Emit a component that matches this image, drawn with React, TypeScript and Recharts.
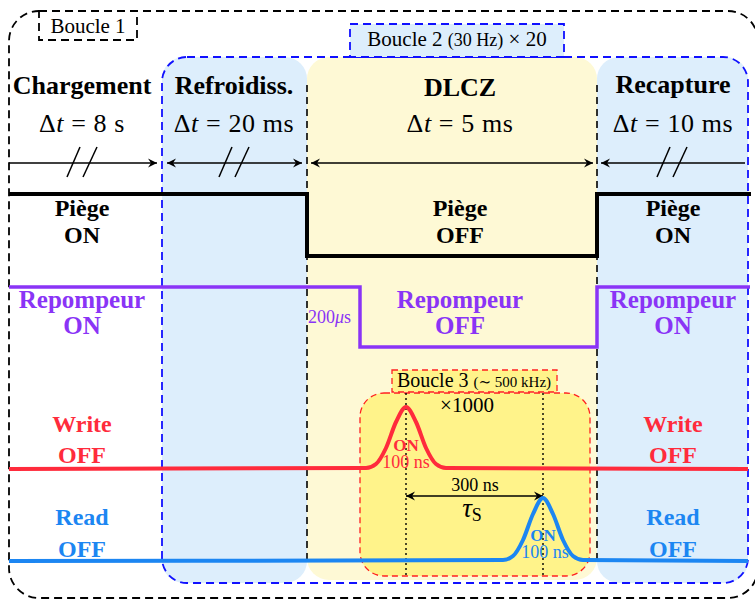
import React from "react";
import {
  LineChart,
  Line,
  XAxis,
  YAxis,
  ReferenceArea,
  ReferenceLine,
  ReferenceDot,
} from "recharts";

const W = 755;
const H = 599;
const SERIF = "'Liberation Serif', 'DejaVu Serif', serif";

const BLACK = "#000000";
const PURPLE = "#8a34f6";
const RED = "#ff2b3c";
const BLUE = "#1c86f2";
const LIGHT_BLUE = "#ddeefc";
const LIGHT_YELLOW = "#fef9d5";
const YELLOW = "#fff38a";

// phases of the sequence
const phases = ["Chargement", "Refroidiss.", "DLCZ", "Recapture"];
const phaseDt = ["8 s", "20 ms", "5 ms", "10 ms"];
const phaseMid = [82, 234, 460, 673];
const phaseTitleY = [94, 94, 96, 93];

// duration arrows (x from / to, heads, position of the // break)
const arrowFrom = [9, 167, 311, 601];
const arrowTo = [157, 302, 593, 745];
const arrowHeads = ["end", "both", "both", "start"];
const arrowBreak = [82, 234, null, 672];
const arrowY = 163;

// traces, x position and level (y grows downwards)
const piegeX = [9, 307, 307, 597, 597, 751];
const piegeY = [194, 194, 256, 256, 194, 194];
const repompX = [9, 360, 360, 597, 597, 750];
const repompY = [287, 287, 347, 347, 287, 287];
const writeX = [9, 366, 376, 386, 396, 406, 416, 426, 436, 446, 748];
const writeY = [469, 468, 464, 448, 422, 407, 422, 448, 464, 468, 469];
const readX = [9, 503, 513, 523, 533, 543, 553, 563, 573, 583, 748];
const readY = [561, 560, 556, 540, 514, 498, 514, 540, 556, 560, 561];

// state labels
const piegeStates = ["ON", "OFF", "ON"];
const piegeStateX = [82, 460, 673];
const repompStates = ["ON", "OFF", "ON"];
const repompStateX = [82, 460, 673];
const writeStates = ["OFF", "OFF"];
const writeStateX = [82, 673];
const readStates = ["OFF", "OFF"];
const readStateX = [82, 673];

const zip = (xs: number[], ys: number[]) => xs.map((x, i) => ({ x, y: ys[i] }));

const piegeData = zip(piegeX, piegeY);
const repompData = zip(repompX, repompY);
const writeData = zip(writeX, writeY);
const readData = zip(readX, readY);

const txt = (
  key: string,
  x: number,
  y: number,
  size: number,
  color: string,
  bold: boolean,
  content: React.ReactNode,
  anchor: "start" | "middle" | "end" = "middle",
  spacing = 0
) => (
  <ReferenceDot
    key={key}
    x={x}
    y={y}
    r={0}
    ifOverflow="visible"
    shape={(p: any) => (
      <text
        x={p.cx}
        y={p.cy}
        textAnchor={anchor}
        fontSize={size}
        fill={color}
        fontWeight={bold ? 700 : 400}
        fontFamily={SERIF}
        letterSpacing={spacing}
        style={{ whiteSpace: "pre" }}
      >
        {content}
      </text>
    )}
  />
);

const roundRect =
  (rx: number, fill: string, stroke = "none", dash = "8 5", sw = 1.8) =>
  (p: any) => (
    <rect
      x={p.x}
      y={p.y}
      width={p.width}
      height={p.height}
      rx={rx}
      ry={rx}
      fill={fill}
      stroke={stroke}
      strokeWidth={sw}
      strokeDasharray={stroke === "none" ? undefined : dash}
    />
  );

const head = (x: number, y: number, dir: number) => {
  const b = x - dir * 9;
  const n = x - dir * 6;
  return `M${x},${y} L${b},${y - 4.5} L${n},${y} L${b},${y + 4.5} Z`;
};

const arrowShape = (heads: string) => (p: any) => {
  const { x1, y1, x2 } = p;
  return (
    <g>
      <line x1={x1} y1={y1} x2={x2} y2={y1} stroke={BLACK} strokeWidth={1.3} />
      {(heads === "end" || heads === "both") && <path d={head(x2, y1, 1)} fill={BLACK} />}
      {(heads === "start" || heads === "both") && <path d={head(x1, y1, -1)} fill={BLACK} />}
    </g>
  );
};

const slashShape = (p: any) => {
  const c = p.cx;
  const y = p.cy;
  return (
    <g stroke={BLACK} strokeWidth={1.5}>
      <line x1={c - 15} y1={y + 14} x2={c - 2} y2={y - 16} />
      <line x1={c + 1} y1={y + 14} x2={c + 15} y2={y - 16} />
    </g>
  );
};

const dt = (v: string) => (
  <>
    Δ<tspan fontStyle="italic">t</tspan> = {v}
  </>
);

export default function App() {
  return (
    <div style={{ width: W, height: H }}>
      <style>{"body{margin:0}"}</style>
      <LineChart width={W} height={H} margin={{ top: 0, right: 0, bottom: 0, left: 0 }}>
        <XAxis type="number" dataKey="x" domain={[0, W]} hide allowDataOverflow />
        <YAxis type="number" domain={[0, H]} reversed hide allowDataOverflow />

        {/* background regions */}
        <ReferenceArea x1={162} x2={307} y1={57} y2={583} ifOverflow="visible" shape={roundRect(22, LIGHT_BLUE)} />
        <ReferenceArea x1={597} x2={748} y1={57} y2={583} ifOverflow="visible" shape={roundRect(22, LIGHT_BLUE)} />
        <ReferenceArea x1={307} x2={597} y1={57} y2={580} ifOverflow="visible" shape={roundRect(22, LIGHT_YELLOW)} />
        <ReferenceArea x1={360} x2={590} y1={393} y2={576} ifOverflow="visible" shape={roundRect(24, YELLOW, "#ff2020", "6 4", 1.3)} />

        {/* loop frames */}
        <ReferenceArea x1={9} x2={758} y1={11} y2={598} ifOverflow="visible" shape={roundRect(30, "none", BLACK, "8 5", 1.8)} />
        <ReferenceArea x1={162} x2={748} y1={57} y2={583} ifOverflow="visible" shape={roundRect(25, "none", "#1010ff", "8 5", 1.8)} />
        <ReferenceArea x1={39} x2={137} y1={11} y2={40} ifOverflow="visible" shape={roundRect(0, "#ffffff", BLACK, "8 5", 1.8)} />
        <ReferenceArea x1={350} x2={564} y1={24} y2={57} ifOverflow="visible" shape={roundRect(0, LIGHT_BLUE, "#1010ff", "8 5", 1.8)} />
        <ReferenceArea x1={392} x2={557} y1={370} y2={392} ifOverflow="visible" shape={roundRect(0, YELLOW, "#ff2020", "6 4", 1.3)} />

        {/* phase separators */}
        <ReferenceLine segment={[{ x: 307, y: 85 }, { x: 307, y: 560 }]} stroke={BLACK} strokeWidth={1.6} strokeDasharray="7 5" ifOverflow="visible" />
        <ReferenceLine segment={[{ x: 597, y: 85 }, { x: 597, y: 560 }]} stroke={BLACK} strokeWidth={1.6} strokeDasharray="7 5" ifOverflow="visible" />
        <ReferenceLine segment={[{ x: 406, y: 393 }, { x: 406, y: 575 }]} stroke={BLACK} strokeWidth={1.4} strokeDasharray="2 3" ifOverflow="visible" />
        <ReferenceLine segment={[{ x: 543, y: 393 }, { x: 543, y: 575 }]} stroke={BLACK} strokeWidth={1.4} strokeDasharray="2 3" ifOverflow="visible" />

        {/* duration arrows */}
        {arrowFrom.map((x, i) => (
          <ReferenceLine
            key={`arr${i}`}
            segment={[{ x, y: arrowY }, { x: arrowTo[i], y: arrowY }]}
            ifOverflow="visible"
            shape={arrowShape(arrowHeads[i])}
          />
        ))}
        {arrowBreak.map((b, i) =>
          b == null ? null : (
            <ReferenceDot key={`brk${i}`} x={b} y={arrowY} r={0} ifOverflow="visible" shape={slashShape} />
          )
        )}
        <ReferenceLine segment={[{ x: 406, y: 496 }, { x: 543, y: 496 }]} ifOverflow="visible" shape={arrowShape("both")} />

        {/* traces */}
        <Line data={piegeData} dataKey="y" type="linear" stroke={BLACK} strokeWidth={4} dot={false} activeDot={false} isAnimationActive={false} />
        <Line data={repompData} dataKey="y" type="linear" stroke={PURPLE} strokeWidth={3.5} dot={false} activeDot={false} isAnimationActive={false} />
        <Line data={writeData} dataKey="y" type="monotone" stroke={RED} strokeWidth={4} dot={false} activeDot={false} isAnimationActive={false} />
        <Line data={readData} dataKey="y" type="monotone" stroke={BLUE} strokeWidth={4} dot={false} activeDot={false} isAnimationActive={false} />

        {/* texts */}
        {txt("b1", 88, 33, 21, BLACK, false, "Boucle 1")}
        {txt(
          "b2",
          457,
          46,
          21,
          BLACK,
          false,
          <>
            Boucle 2 <tspan fontSize={18}>(30 Hz)</tspan> × 20
          </>
        )}
        {txt(
          "b3",
          474,
          387,
          20,
          BLACK,
          false,
          <>
            Boucle 3 <tspan fontSize={15}>(∼ 500 kHz)</tspan>
          </>
        )}
        {phases.map((p, i) => txt(`ph${i}`, phaseMid[i], phaseTitleY[i], 26, BLACK, true, p))}
        {phaseDt.map((d, i) => txt(`dt${i}`, phaseMid[i], 132, 26, BLACK, false, dt(d), "middle", 0.6))}

        {piegeStates.map((s, i) => txt(`pg${i}`, piegeStateX[i], 216, 24, BLACK, true, "Piège"))}
        {piegeStates.map((s, i) => txt(`pgs${i}`, piegeStateX[i], 243, 24, BLACK, true, s))}
        {repompStates.map((s, i) => txt(`rp${i}`, repompStateX[i], 308, 25, PURPLE, true, "Repompeur"))}
        {repompStates.map((s, i) => txt(`rps${i}`, repompStateX[i], 334, 25, PURPLE, true, s))}
        {writeStates.map((s, i) => txt(`wr${i}`, writeStateX[i], 432, 24, RED, true, "Write"))}
        {writeStates.map((s, i) => txt(`wrs${i}`, writeStateX[i], 463, 24, RED, true, s))}
        {readStates.map((s, i) => txt(`rd${i}`, readStateX[i], 525, 24, BLUE, true, "Read"))}
        {readStates.map((s, i) => txt(`rds${i}`, readStateX[i], 557, 24, BLUE, true, s))}

        {txt(
          "200",
          308,
          323,
          18,
          PURPLE,
          false,
          <>
            200<tspan fontStyle="italic">μ</tspan>s
          </>,
          "start"
        )}
        {txt("x1000", 467, 412, 21, BLACK, false, "×1000")}
        {txt("won", 406, 451, 17, RED, true, "ON")}
        {txt("wns", 406, 468, 18, RED, false, "100 ns")}
        {txt("ron", 543, 541, 17, BLUE, true, "ON")}
        {txt("rns", 545, 558, 18, BLUE, false, "100 ns")}
        {txt("300", 475, 491, 18, BLACK, false, "300 ns")}
        {txt(
          "tau",
          472,
          517,
          27,
          BLACK,
          false,
          <>
            <tspan fontStyle="italic">τ</tspan>
            <tspan fontSize={18} dy={4}>S</tspan>
          </>
        )}
      </LineChart>
    </div>
  );
}
